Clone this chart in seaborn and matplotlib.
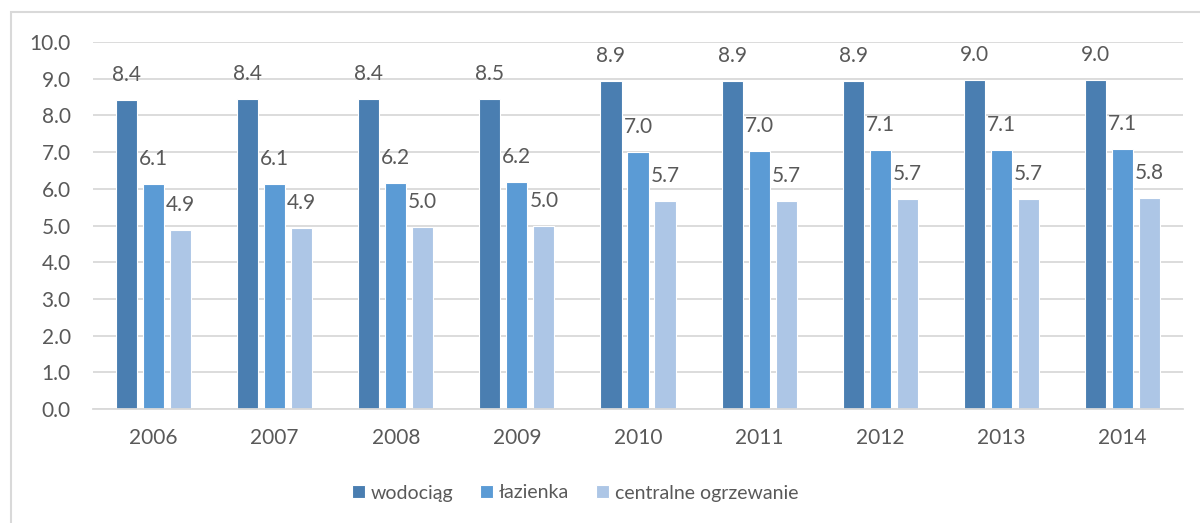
import matplotlib
matplotlib.use("Agg")
import matplotlib.pyplot as plt
from matplotlib.patches import Rectangle
import seaborn as sns
import pandas as pd

years = ["2006", "2007", "2008", "2009", "2010", "2011", "2012", "2013", "2014"]
wodociag = [8.43, 8.44, 8.45, 8.46, 8.93, 8.94, 8.945, 8.965, 8.975]
lazienka = [6.13, 6.14, 6.16, 6.19, 7.01, 7.03, 7.06, 7.07, 7.09]
centralne = [4.89, 4.92, 4.96, 4.99, 5.66, 5.68, 5.71, 5.73, 5.76]
series_names = ["wodociąg", "łazienka", "centralne ogrzewanie"]
colors = ["#4A7EB1", "#5B9BD5", "#ADC6E6"]
yticks = [0, 1, 2, 3, 4, 5, 6, 7, 8, 9, 10]

rows = []
for name, vals in zip(series_names, [wodociag, lazienka, centralne]):
    for y, v in zip(years, vals):
        rows.append({"rok": y, "seria": name, "wartosc": v})
df = pd.DataFrame(rows)

sns.set_theme(style="white")
plt.rcParams["font.family"] = ["Lato", "DejaVu Sans"]
text_color = "#595959"

fig = plt.figure(figsize=(12, 5.23), dpi=100)
ax = fig.add_axes([93 / 1200, 1 - 409 / 523, (1183 - 93) / 1200, (409 - 42) / 523])

sns.barplot(data=df, x="rok", y="wartosc", hue="seria", hue_order=series_names,
            palette=colors, width=0.67, gap=0.22, ax=ax, legend=True,
            edgecolor="white", linewidth=0.8, saturation=1)

ax.set_ylim(0, 10)
ax.set_xlim(-0.5, len(years) - 0.5)
ax.set_yticks(yticks)
ax.set_yticklabels([f"{t:.1f}" for t in yticks])
ax.yaxis.grid(True, color="#D9D9D9", linewidth=1.3)
ax.set_axisbelow(True)
for s in ["top", "right", "left"]:
    ax.spines[s].set_visible(False)
ax.spines["bottom"].set_color("#D9D9D9")
ax.spines["bottom"].set_linewidth(1.3)
ax.set_xlabel("")
ax.set_ylabel("")
ax.tick_params(axis="y", length=0, pad=16, labelsize=15, labelcolor=text_color)
ax.tick_params(axis="x", length=0, pad=14, labelsize=15, labelcolor=text_color)

for cont in ax.containers:
    for bar in cont:
        h = bar.get_height()
        ax.annotate(f"{h:.1f}", (bar.get_x() + bar.get_width() / 2, h),
                    xytext=(0, 18), textcoords="offset points",
                    ha="center", va="center", fontsize=15, color=text_color)

handles, labels = ax.get_legend_handles_labels()
ax.get_legend().remove()
fig.legend(handles, labels, loc="center", bbox_to_anchor=(575 / 1200, 1 - 493 / 523),
           ncol=3, frameon=False, fontsize=14, labelcolor=text_color,
           handlelength=0.65, handleheight=0.65, handletextpad=0.3, columnspacing=1.4)

fig.patches.append(Rectangle((11 / 1200, -0.05), 1.1, 1 - 12 / 523 + 0.05,
                             transform=fig.transFigure, fill=False,
                             edgecolor="#D9D9D9", linewidth=1.5, zorder=-1))

fig.savefig("out.png", dpi=100, facecolor="white")
